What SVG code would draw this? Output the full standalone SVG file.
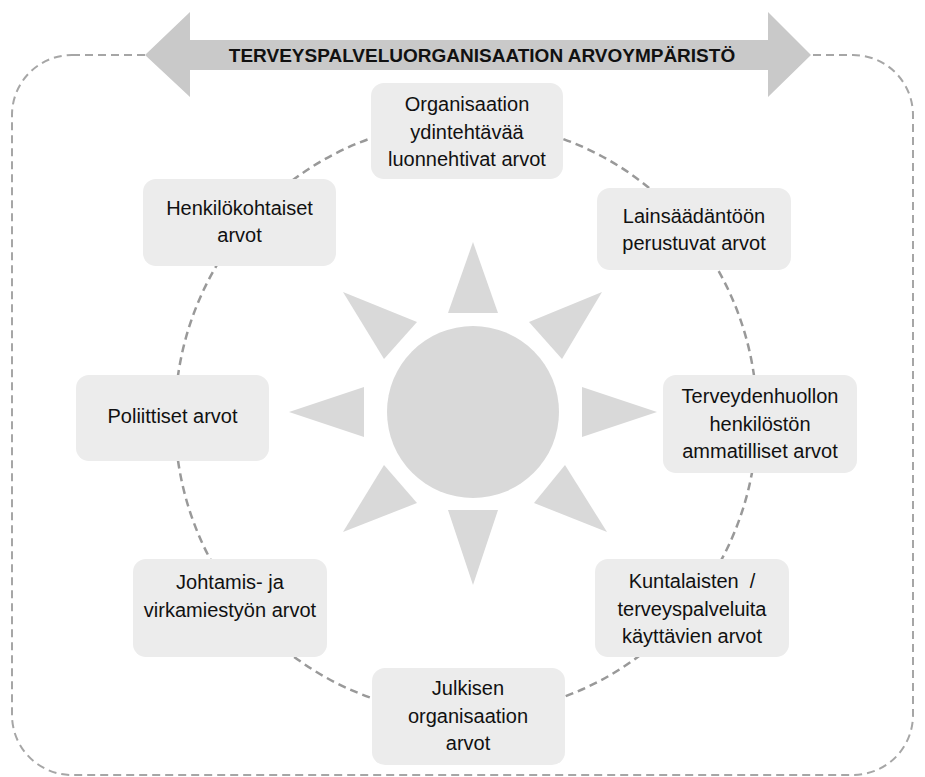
<svg xmlns="http://www.w3.org/2000/svg" width="925" height="777" viewBox="0 0 925 777">
  <style>
    .frame { fill: none; stroke: #a6a6a6; stroke-width: 2; stroke-dasharray: 8 5; }
    .ring { fill: none; stroke: #999999; stroke-width: 2.5; stroke-dasharray: 8 5; }
    .box { fill: #ececec; }
    .ray { fill: #d9d9d9; }
    .lbl { font-family: "Liberation Sans", Arial, sans-serif; font-size: 20px; fill: #111111; text-anchor: middle; }
    .title { font-family: "Liberation Sans", Arial, sans-serif; font-size: 19px; font-weight: bold; fill: #111111; text-anchor: middle; }
  </style>
  <rect width="925" height="777" fill="#ffffff"/>

  <!-- environment frame and value circle -->
  <g id="connectors">
    <rect class="frame" x="12" y="55" width="901" height="720" rx="60" ry="60"/>
    <ellipse class="ring" cx="466" cy="418" rx="291" ry="296"/>
  </g>

  <!-- double-headed banner -->
  <g id="banner">
    <polygon fill="#c9c9c9" points="145,55 190,12 190,40 768,40 768,12 811,55 768,97 768,70 190,70 190,97"/>
    <text class="title" x="482" y="62">TERVEYSPALVELUORGANISAATION ARVOYMPÄRISTÖ</text>
  </g>

  <!-- sun -->
  <g id="sun">
    <circle class="ray" cx="473" cy="412" r="86"/>
    <polygon class="ray" points="473,242 498,313 448,313"/>
    <polygon class="ray" points="473,585 448,510 498,510"/>
    <polygon class="ray" points="289,412 364,387 364,437"/>
    <polygon class="ray" points="657,412 582,387 582,437"/>
    <polygon class="ray" points="343,292 417,322 384,359"/>
    <polygon class="ray" points="602,292 529,322 562,359"/>
    <polygon class="ray" points="384,465 417,503 343,532"/>
    <polygon class="ray" points="565,465 534,503 607,532"/>
  </g>

  <g id="node-organisaatio">
    <rect class="box" x="371" y="83" width="192" height="96" rx="13"/>
    <text class="lbl" x="467" y="111">Organisaation</text>
    <text class="lbl" x="467" y="138.5">ydintehtävää</text>
    <text class="lbl" x="467" y="166">luonnehtivat arvot</text>
  </g>

  <g id="node-lainsaadanto">
    <rect class="box" x="597" y="188" width="194" height="82" rx="13"/>
    <text class="lbl" x="694" y="223">Lainsäädäntöön</text>
    <text class="lbl" x="694" y="250">perustuvat arvot</text>
  </g>

  <g id="node-terveydenhuolto">
    <rect class="box" x="663" y="375" width="194" height="98" rx="13"/>
    <text class="lbl" x="760" y="403">Terveydenhuollon</text>
    <text class="lbl" x="760" y="430.5">henkilöstön</text>
    <text class="lbl" x="760" y="458">ammatilliset arvot</text>
  </g>

  <g id="node-kuntalaiset">
    <rect class="box" x="595" y="559" width="194" height="98" rx="13"/>
    <text class="lbl" x="692" y="588" xml:space="preserve">Kuntalaisten  /</text>
    <text class="lbl" x="692" y="615.5">terveyspalveluita</text>
    <text class="lbl" x="692" y="643">käyttävien arvot</text>
  </g>

  <g id="node-julkinen">
    <rect class="box" x="372" y="668" width="193" height="97" rx="13"/>
    <text class="lbl" x="468" y="695">Julkisen</text>
    <text class="lbl" x="468" y="723">organisaation</text>
    <text class="lbl" x="468" y="750">arvot</text>
  </g>

  <g id="node-johtaminen">
    <rect class="box" x="133" y="559" width="194" height="98" rx="13"/>
    <text class="lbl" x="230" y="589">Johtamis- ja</text>
    <text class="lbl" x="230" y="617">virkamiestyön arvot</text>
  </g>

  <g id="node-poliittiset">
    <rect class="box" x="76" y="375" width="193" height="86" rx="13"/>
    <text class="lbl" x="172.5" y="423">Poliittiset arvot</text>
  </g>

  <g id="node-henkilokohtaiset">
    <rect class="box" x="143" y="179" width="193" height="87" rx="13"/>
    <text class="lbl" x="239.5" y="215">Henkilökohtaiset</text>
    <text class="lbl" x="239.5" y="242">arvot</text>
  </g>
</svg>
